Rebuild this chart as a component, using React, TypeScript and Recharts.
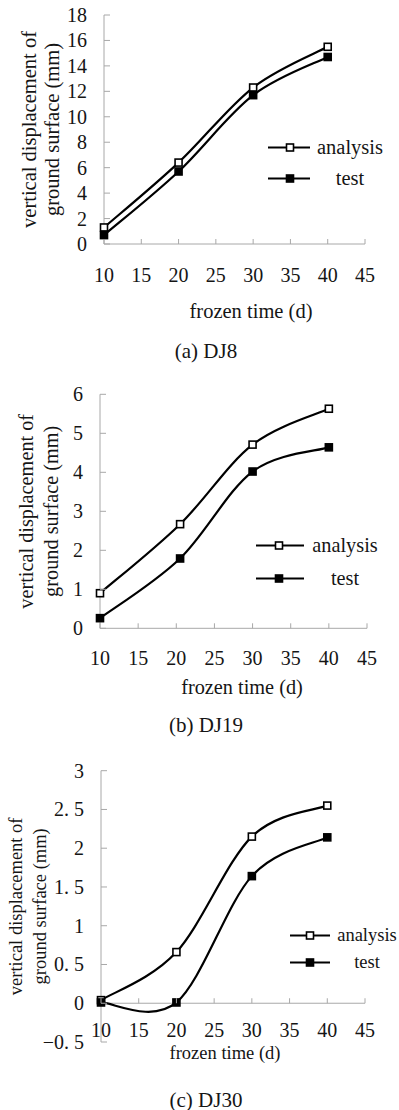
import React from 'react';
import { LineChart, Line, XAxis, YAxis, ReferenceLine, Legend } from 'recharts';

// frozen time (d) ticks shared by all three panels
const X_TICKS = [10, 15, 20, 25, 30, 35, 40, 45];

// (a) DJ8
const dj8Days = [10, 20, 30, 40];
const dj8Analysis = [1.3, 6.4, 12.3, 15.5];
const dj8Test = [0.7, 5.7, 11.7, 14.7];
const dj8YTicks = [0, 2, 4, 6, 8, 10, 12, 14, 16, 18];
const dj8YLabels = ['0', '2', '4', '6', '8', '10', '12', '14', '16', '18'];

// (b) DJ19
const dj19Days = [10, 20.5, 30, 40];
const dj19Analysis = [0.9, 2.67, 4.71, 5.63];
const dj19Test = [0.26, 1.79, 4.02, 4.64];
const dj19YTicks = [0, 1, 2, 3, 4, 5, 6];
const dj19YLabels = ['0', '1', '2', '3', '4', '5', '6'];

// (c) DJ30
const dj30Days = [10, 20, 30, 40];
const dj30Analysis = [0.04, 0.66, 2.15, 2.55];
const dj30Test = [0.01, 0.01, 1.64, 2.14];
const dj30YTicks = [-0.5, 0, 0.5, 1, 1.5, 2, 2.5, 3];
const dj30YLabels = ['\u22120. 5', '0', '0. 5', '1', '1. 5', '2', '2. 5', '3'];

const FONT = '"Liberation Serif", "Times New Roman", Times, serif';
const AXIS = '#a8a8a8';
const INK = '#151515';

const buildRows = (days: number[], a: number[], t: number[]) =>
  days.map((d, i) => ({ day: d, analysis: a[i], test: t[i] }));

// spreadsheet-style smoothed line (Catmull-Rom through the points)
const smoothCurve = (context: any) => {
  let pts: number[][] = [];
  return {
    areaStart() {},
    areaEnd() {},
    lineStart() {
      pts = [];
    },
    point(x: number, y: number) {
      pts.push([+x, +y]);
    },
    lineEnd() {
      if (!pts.length) return;
      context.moveTo(pts[0][0], pts[0][1]);
      for (let i = 0; i < pts.length - 1; i++) {
        const p0 = pts[i - 1] || pts[i];
        const p1 = pts[i];
        const p2 = pts[i + 1];
        const p3 = pts[i + 2] || p2;
        context.bezierCurveTo(
          p1[0] + (p2[0] - p0[0]) / 6,
          p1[1] + (p2[1] - p0[1]) / 6,
          p2[0] - (p3[0] - p1[0]) / 6,
          p2[1] - (p3[1] - p1[1]) / 6,
          p2[0],
          p2[1]
        );
      }
    },
  };
};

const square = (filled: boolean) => (p: any) => {
  if (p.cx == null || p.cy == null) return <g key={p.key} />;
  return (
    <rect
      key={p.key}
      x={p.cx - 3.5}
      y={p.cy - 3.5}
      width={7}
      height={7}
      fill={filled ? '#000' : '#fff'}
      stroke="#000"
      strokeWidth={1.6}
    />
  );
};

type PanelCfg = {
  top: number;
  height: number;
  plot: { left: number; top: number; right: number; bottom: number };
  rows: any[];
  yDomain: [number, number];
  yTicks: number[];
  yLabels: string[];
  titleSize: number;
  yTitleX: [number, number];
  xTitle: { x: number; y: number };
  xLabelGap: number;
  caption: string;
  captionY: number;
  legend: { left: number; top: number; rowH: number; lineW: number; markerX: number; textCenter: number };
};

const txt = { fontFamily: FONT };

const Panel: React.FC<{ cfg: PanelCfg }> = ({ cfg }) => {
  const W = 399;
  const { plot } = cfg;
  const xAxisH = 30;
  const [yMin, yMax] = cfg.yDomain;
  const plotH = plot.bottom - plot.top;
  const lift = plotH * ((0 - yMin) / (yMax - yMin));
  const yMid = (plot.top + plot.bottom) / 2;

  const xTick = (p: any) => (
    <g>
      <line x1={p.x} x2={p.x} y1={p.y - lift} y2={p.y - lift - 5} stroke={AXIS} strokeWidth={1} />
      <text
        x={p.x}
        y={p.y - lift + cfg.xLabelGap}
        textAnchor="middle"
        dominantBaseline="central"
        style={txt}
        fontSize={20}
        fill={INK}
      >
        {p.payload.value}
      </text>
    </g>
  );

  const yTick = (p: any) => {
    const idx = cfg.yTicks.indexOf(p.payload.value);
    return (
      <g>
        <line x1={p.x} x2={p.x + 6} y1={p.y} y2={p.y} stroke={AXIS} strokeWidth={1} />
        <text
          x={p.x - 17}
          y={p.y}
          textAnchor="end"
          dominantBaseline="central"
          style={txt}
          fontSize={20}
          fill={INK}
        >
          {idx >= 0 ? cfg.yLabels[idx] : p.payload.value}
        </text>
      </g>
    );
  };

  const yTitle = () => (
    <g style={txt} fontSize={cfg.titleSize} fill={INK}>
      <text
        x={cfg.yTitleX[0]}
        y={yMid}
        textAnchor="middle"
        dominantBaseline="central"
        style={txt}
        transform={`rotate(-90 ${cfg.yTitleX[0]} ${yMid})`}
      >
        vertical displacement of
      </text>
      <text
        x={cfg.yTitleX[1]}
        y={yMid}
        textAnchor="middle"
        dominantBaseline="central"
        style={txt}
        transform={`rotate(-90 ${cfg.yTitleX[1]} ${yMid})`}
      >
        ground surface (mm)
      </text>
    </g>
  );

  const xTitle = () => (
    <text
      x={cfg.xTitle.x}
      y={cfg.xTitle.y}
      textAnchor="middle"
      dominantBaseline="central"
      style={txt}
      fontSize={cfg.titleSize}
      fill={INK}
    >
      frozen time (d)
    </text>
  );

  const lg = cfg.legend;
  const legendContent = (props: any) => (
    <div style={{ fontFamily: FONT, fontSize: cfg.titleSize, color: INK, position: 'relative' }}>
      {(props.payload || []).map((e: any) => (
        <div key={e.value} style={{ display: 'flex', alignItems: 'center', height: lg.rowH, position: 'relative' }}>
          <svg width={lg.lineW + 4} height={lg.rowH} style={{ display: 'block' }}>
            <line x1={0} x2={lg.lineW} y1={lg.rowH / 2} y2={lg.rowH / 2} stroke="#000" strokeWidth={2.2} />
            <rect
              x={lg.markerX - 3.5}
              y={lg.rowH / 2 - 3.5}
              width={7}
              height={7}
              fill={e.dataKey === 'test' ? '#000' : '#fff'}
              stroke="#000"
              strokeWidth={1.6}
            />
          </svg>
          <span
            style={{
              position: 'absolute',
              top: 0,
              left: lg.textCenter - 40,
              width: 80,
              textAlign: 'center',
              lineHeight: `${lg.rowH}px`,
            }}
          >
            {e.value}
          </span>
        </div>
      ))}
    </div>
  );

  return (
    <div style={{ position: 'absolute', left: 0, top: cfg.top, width: W, height: cfg.height }}>
      <LineChart
        width={W}
        height={cfg.height}
        data={cfg.rows}
        style={{ fontFamily: FONT }}
        margin={{
          top: plot.top,
          left: 0,
          right: W - plot.right,
          bottom: cfg.height - plot.bottom - xAxisH,
        }}
      >
        <XAxis
          dataKey="day"
          type="number"
          domain={[10, 45]}
          ticks={X_TICKS}
          interval={0}
          height={xAxisH}
          tickSize={0}
          tickMargin={0}
          tickLine={false}
          axisLine={yMin < 0 ? false : { stroke: AXIS, strokeWidth: 1 }}
          tick={xTick}
          label={{ content: xTitle }}
        />
        <YAxis
          type="number"
          domain={cfg.yDomain}
          ticks={cfg.yTicks}
          interval={0}
          width={plot.left}
          tickSize={0}
          tickMargin={0}
          tickLine={false}
          axisLine={{ stroke: AXIS, strokeWidth: 1 }}
          tick={yTick}
          label={{ content: yTitle }}
        />
        {yMin < 0 && <ReferenceLine y={0} stroke={AXIS} strokeWidth={1} />}
        <Legend
          layout="horizontal"
          verticalAlign="middle"
          align="center"
          content={legendContent}
          wrapperStyle={{ left: lg.left, top: lg.top, width: 140 }}
        />
        <Line
          dataKey="analysis"
          name="analysis"
          type={smoothCurve as any}
          stroke="#000"
          strokeWidth={2.2}
          dot={square(false)}
          activeDot={false}
          isAnimationActive={false}
        />
        <Line
          dataKey="test"
          name="test"
          type={smoothCurve as any}
          stroke="#000"
          strokeWidth={2.2}
          dot={square(true)}
          activeDot={false}
          isAnimationActive={false}
        />
      </LineChart>
      <div
        style={{
          position: 'absolute',
          left: 0,
          width: 412,
          top: cfg.captionY - 12,
          height: 24,
          lineHeight: '24px',
          textAlign: 'center',
          fontFamily: FONT,
          fontSize: 21,
          color: INK,
        }}
      >
        {cfg.caption}
      </div>
    </div>
  );
};

const panels: PanelCfg[] = [
  {
    top: 0,
    height: 370,
    plot: { left: 104, top: 15, right: 365, bottom: 244 },
    rows: buildRows(dj8Days, dj8Analysis, dj8Test),
    yDomain: [0, 18],
    yTicks: dj8YTicks,
    yLabels: dj8YLabels,
    titleSize: 20.5,
    yTitleX: [29, 52],
    xTitle: { x: 251, y: 311 },
    xLabelGap: 31,
    caption: '(a) DJ8',
    captionY: 351,
    legend: { left: 268, top: 131.5, rowH: 31, lineW: 42, markerX: 22, textCenter: 82 },
  },
  {
    top: 370,
    height: 370,
    plot: { left: 100, top: 24.3, right: 367, bottom: 258.3 },
    rows: buildRows(dj19Days, dj19Analysis, dj19Test),
    yDomain: [0, 6],
    yTicks: dj19YTicks,
    yLabels: dj19YLabels,
    titleSize: 20.3,
    yTitleX: [26, 51],
    xTitle: { x: 242, y: 317 },
    xLabelGap: 30,
    caption: '(b) DJ19',
    captionY: 355,
    legend: { left: 256, top: 158.5, rowH: 33, lineW: 48, markerX: 23, textCenter: 89 },
  },
  {
    top: 740,
    height: 370,
    plot: { left: 101, top: 30.7, right: 365, bottom: 302 },
    rows: buildRows(dj30Days, dj30Analysis, dj30Test),
    yDomain: [-0.5, 3],
    yTicks: dj30YTicks,
    yLabels: dj30YLabels,
    titleSize: 18.5,
    yTitleX: [16, 40],
    xTitle: { x: 225, y: 313 },
    xLabelGap: 27,
    caption: '(c) DJ30',
    captionY: 360,
    legend: { left: 290, top: 181.5, rowH: 27, lineW: 40, markerX: 20, textCenter: 77 },
  },
];

export default function App() {
  return (
    <div
      style={{
        position: 'absolute',
        left: 0,
        top: 0,
        width: 399,
        height: 1110,
        background: '#fff',
        fontFamily: FONT,
      }}
    >
      {panels.map((p) => (
        <Panel key={p.caption} cfg={p} />
      ))}
    </div>
  );
}
